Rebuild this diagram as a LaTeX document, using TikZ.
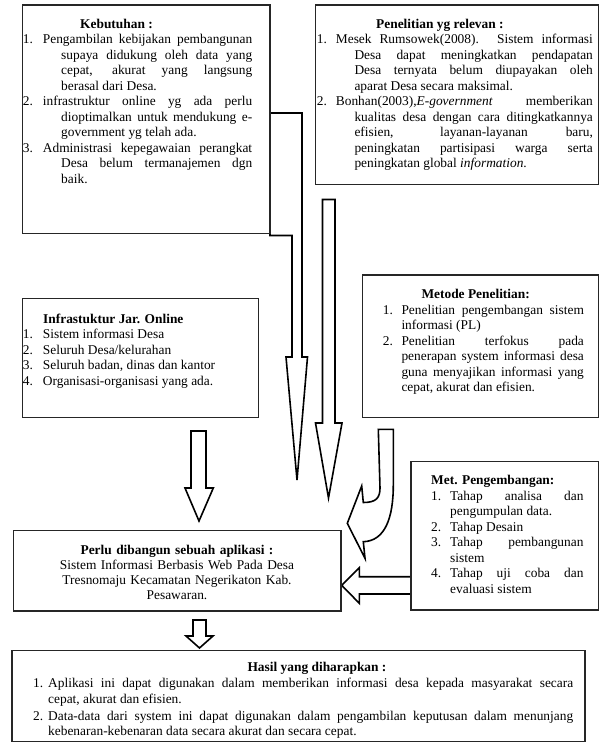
\documentclass[tikz,border=0pt]{standalone}
\usepackage{fontspec}
\setmainfont{Liberation Serif}
\newcommand\litem[4]{\noindent\hangindent=#3pt\hangafter=1\makebox[#2pt][l]{#1}#4\par}
\newcommand\setpar{\tolerance=10000 \hyphenpenalty=10000 \exhyphenpenalty=10000 \relax}
\begin{document}
\begin{tikzpicture}[x=1pt,y=-1pt,
  box/.style={draw=black!85, line width=1.1pt, fill=white, anchor=north west, inner sep=0pt, outer sep=0pt},
  txt/.style={anchor=base west, inner sep=0pt, align=justify, font=\fontsize{13.4}{15.5}\selectfont},
  ctxt/.style={anchor=base, inner sep=0pt, align=center, font=\fontsize{13.4}{15.3}\selectfont},
  blk/.style={draw=black, line width=1.6pt, fill=white, line join=miter}]
\useasboundingbox (0,0) rectangle (600,746);

% ---- block arrows (drawn below the boxes) ----
\draw[blk] (270,113) -- (302,113) -- (302,357) -- (307.5,357) -- (297,480) -- (286,357) -- (292,357) -- (292,235.5) -- (270,235.5) -- cycle;
\draw[blk] (322.5,199.5) -- (335,199.5) -- (335,423) -- (342,423) -- (328.5,498) -- (315.5,423) -- (322.5,423) -- cycle;
\draw[blk] (378.3,429.3) -- (380,488) .. controls (380,498) and (376,502.5) .. (363.3,502.5) -- (361.7,486) -- (347.3,523.3) -- (365,558.3) -- (363.3,541.7) .. controls (385,541) and (393.3,518) .. (393.3,485) -- (393.3,429.3) -- cycle;
\draw[blk] (415,576.7) -- (359.3,576.7) -- (359.3,567.7) -- (341.7,585.3) -- (359.3,603.3) -- (359.3,594) -- (415,594);
\draw[blk] (191,431) -- (206,431) -- (206,488) -- (213.3,488) -- (199,521) -- (185,488) -- (191,488) -- cycle;
\draw[blk] (193,620) -- (206,620) -- (206,636) -- (213,636) -- (199.5,648) -- (186,636) -- (193,636) -- cycle;

% ---- boxes ----
\node[box, minimum width=247.3pt, minimum height=228.3pt] (keb) at (22.7,5) {};
\node[box, minimum width=282.8pt, minimum height=179.3pt] (rel) at (315.7,5) {};
\node[box, minimum width=235.6pt, minimum height=119.4pt] (infra) at (22.7,298.3) {};
\node[box, minimum width=236.2pt, minimum height=142.3pt] (metode) at (362.3,275) {};
\node[box, minimum width=187.5pt, minimum height=148.3pt] (metpeng) at (411,461.7) {};
\node[box, minimum width=327.7pt, minimum height=80.3pt] (perlu) at (13.3,530.7) {};
\node[box, minimum width=573pt, minimum height=91pt] (hasil) at (12,650.7) {};

% ---- texts ----
\node[txt, text width=229.3pt] (kebT) at (22.7,28.5) {\setpar
\noindent\hspace*{57.3pt}\textbf{Kebutuhan :}\par
\litem{1.}{20}{38.3}{Pengambilan kebijakan pembangunan\linebreak supaya didukung oleh data yang\linebreak cepat, akurat yang langsung\linebreak berasal dari Desa.}
\litem{2.}{20}{38.3}{infrastruktur online yg ada perlu\linebreak dioptimalkan untuk mendukung e-\linebreak government yg telah ada.}
\litem{3.}{20}{38.3}{Administrasi kepegawaian perangkat\linebreak Desa belum termanajemen dgn\linebreak baik.}};

\node[txt, text width=276pt] (relT) at (316.7,28.5) {\setpar
\noindent\hspace*{59.3pt}\textbf{Penelitian yg relevan :}\par
\litem{1.}{19}{37.6}{Mesek Rumsowek(2008). Sistem informasi\linebreak Desa dapat meningkatkan pendapatan\linebreak Desa ternyata belum diupayakan oleh\linebreak aparat Desa secara maksimal.}
\litem{2.}{19}{37.6}{Bonhan(2003),\textit{E-government} memberikan\linebreak kualitas desa dengan cara ditingkatkannya\linebreak efisien, layanan-layanan baru,\linebreak peningkatan partisipasi warga serta\linebreak peningkatan global \textit{information}.}};

\node[txt, text width=230pt] (infraT) at (22.7,323) {\setpar
\noindent\hspace*{20.3pt}\textbf{Infrastuktur Jar. Online}\par
\litem{1.}{20}{20}{Sistem informasi Desa}
\litem{2.}{20}{20}{Seluruh Desa/kelurahan}
\litem{3.}{20}{20}{Seluruh badan, dinas dan kantor}
\litem{4.}{20}{20}{Organisasi-organisasi yang ada.}};

\node[txt, text width=201pt] (metodeT) at (382.7,298.5) {\setpar
\noindent\hspace*{38.6pt}\textbf{Metode Penelitian:}\par
\litem{1.}{18.6}{18.6}{Penelitian pengembangan sistem\linebreak informasi (PL)}
\litem{2.}{18.6}{18.6}{Penelitian terfokus pada\linebreak penerapan system informasi desa\linebreak guna menyajikan informasi yang\linebreak cepat, akurat dan efisien.}};

\node[txt, text width=152.3pt] (metpengT) at (431,484.5) {\setpar
\noindent\textbf{Met. Pengembangan:}\par
\litem{1.}{19}{19}{Tahap analisa dan\linebreak pengumpulan data.}
\litem{2.}{19}{19}{Tahap Desain}
\litem{3.}{19}{19}{Tahap pembangunan\linebreak sistem}
\litem{4.}{19}{19}{Tahap uji coba dan\linebreak evaluasi sistem}};

\node[ctxt, text width=320pt] (perluT) at (177,554) {%
\textbf{Perlu dibangun sebuah aplikasi :}\\
Sistem Informasi Berbasis Web Pada Desa\\
Tresnomaju Kecamatan Negerikaton Kab.\\
Pesawaran.};

\node[ctxt] (hasilTitle) at (317,671) {\textbf{Hasil yang diharapkan :}};
\node[txt, text width=540pt] (hasilT) at (33,687.5) {\setpar\parskip=1.5pt
\litem{1.}{15}{15}{Aplikasi ini dapat digunakan dalam memberikan informasi desa kepada masyarakat secara\linebreak cepat, akurat dan efisien.}
\litem{2.}{15}{15}{Data-data dari system ini dapat digunakan dalam pengambilan keputusan dalam menunjang\linebreak kebenaran-kebenaran data secara akurat dan secara cepat.}};
\end{tikzpicture}
\end{document}
